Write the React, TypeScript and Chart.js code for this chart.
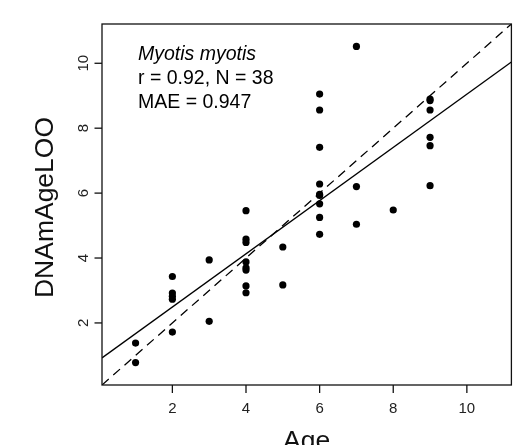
import React, { useEffect, useRef } from "react";
import { Chart, registerables } from "chart.js";

Chart.register(...registerables);

// ---- data ----
const ages = [
  1, 1,
  2, 2, 2, 2, 2,
  3, 3,
  4, 4, 4, 4, 4, 4, 4, 4,
  5, 5,
  6, 6, 6, 6, 6, 6, 6, 6, 6,
  7, 7, 7,
  8,
  9, 9, 9, 9, 9, 9,
];
const predicted = [
  1.38, 0.78,
  3.43, 2.92, 2.82, 2.73, 1.72,
  3.94, 2.05,
  5.46, 4.58, 4.48, 3.88, 3.7, 3.63, 3.14, 2.93,
  4.34, 3.17,
  9.05, 8.56, 7.41, 6.28, 5.96, 5.93, 5.67, 5.25, 4.73,
  10.52, 6.2, 5.04,
  5.48,
  8.9, 8.85, 8.56, 7.72, 7.46, 6.23,
];
const xTicks = [2, 4, 6, 8, 10];
const yTicks = [2, 4, 6, 8, 10];
const axisMin = 0.088;
const axisMax = 11.21;
const fitIntercept = 0.85;
const fitSlope = 0.82;
const speciesName = "Myotis myotis";
const statLines = ["r = 0.92, N = 38", "MAE = 0.947"];
const xTitle = "Age";
const yTitle = "DNAmAgeLOO";

const FONT = '"Liberation Sans", Arial, Helvetica, sans-serif';

const rPlotPlugin = {
  id: "rPlot",
  afterDraw(chart: any) {
    const { ctx, chartArea: a, scales } = chart;
    const xs = scales.x;
    const ys = scales.y;
    ctx.save();
    // box
    ctx.strokeStyle = "#111";
    ctx.lineWidth = 1.3;
    ctx.strokeRect(a.left, a.top, a.right - a.left, a.bottom - a.top);

    // x ticks & labels
    ctx.font = `15px ${FONT}`;
    ctx.fillStyle = "#222";
    ctx.textAlign = "center";
    ctx.textBaseline = "alphabetic";
    xTicks.forEach((v) => {
      const px = xs.getPixelForValue(v);
      ctx.beginPath();
      ctx.moveTo(px, a.bottom);
      ctx.lineTo(px, a.bottom + 8);
      ctx.stroke();
      ctx.fillText(String(v), px, a.bottom + 27.5);
    });

    // y ticks & labels (rotated)
    yTicks.forEach((v) => {
      const py = ys.getPixelForValue(v);
      ctx.beginPath();
      ctx.moveTo(a.left, py);
      ctx.lineTo(a.left - 7.5, py);
      ctx.stroke();
      ctx.save();
      ctx.translate(a.left - 14.5, py);
      ctx.rotate(-Math.PI / 2);
      ctx.fillText(String(v), 0, 0);
      ctx.restore();
    });

    // axis titles
    ctx.fillStyle = "#111";
    ctx.font = `26.5px ${FONT}`;
    ctx.textAlign = "center";
    ctx.fillText(xTitle, (a.left + a.right) / 2, a.bottom + 64);
    ctx.save();
    ctx.translate(53.3, (a.top + a.bottom) / 2 + 3);
    ctx.rotate(-Math.PI / 2);
    ctx.fillText(yTitle, 0, 0);
    ctx.restore();

    // annotation
    ctx.textAlign = "left";
    ctx.fillStyle = "#000";
    ctx.font = `italic 19.5px ${FONT}`;
    ctx.fillText(speciesName, a.left + 36, a.top + 36);
    ctx.font = `19.5px ${FONT}`;
    statLines.forEach((t, i) => {
      ctx.fillText(t, a.left + 36, a.top + 60 + i * 24);
    });
    ctx.restore();
  },
};

export default function App() {
  const ref = useRef<HTMLCanvasElement | null>(null);

  useEffect(() => {
    document.body.style.margin = "0";
    const canvas = ref.current;
    if (!canvas) return;
    const points = ages.map((x, i) => ({ x, y: predicted[i] }));
    const fitLine = [axisMin, axisMax].map((x) => ({ x, y: fitIntercept + fitSlope * x }));
    const identity = [axisMin, axisMax].map((x) => ({ x, y: x }));

    const chart = new Chart(canvas, {
      type: "scatter",
      data: {
        datasets: [
          {
            label: "identity",
            data: identity,
            showLine: true,
            borderColor: "#000",
            borderWidth: 1.3,
            borderDash: [9, 6],
            pointRadius: 0,
            fill: false,
          },
          {
            label: "fit",
            data: fitLine,
            showLine: true,
            borderColor: "#000",
            borderWidth: 1.3,
            pointRadius: 0,
            fill: false,
          },
          {
            label: "samples",
            data: points,
            backgroundColor: "#000",
            borderColor: "#000",
            borderWidth: 0,
            pointRadius: 3.6,
            pointHoverRadius: 3.6,
          },
        ],
      },
      options: {
        animation: false,
        responsive: false,
        devicePixelRatio: 1,
        events: [],
        layout: { padding: { left: 102, top: 24, right: 2, bottom: 60 } },
        plugins: {
          legend: { display: false },
          tooltip: { enabled: false },
          title: { display: false },
        },
        scales: {
          x: { type: "linear", min: axisMin, max: axisMax, display: false },
          y: { type: "linear", min: axisMin, max: axisMax, display: false },
        },
      },
      plugins: [rPlotPlugin],
    });
    return () => chart.destroy();
  }, []);

  return (
    <div style={{ position: "absolute", left: 0, top: 0, width: 515, height: 445, background: "#fff" }}>
      <canvas ref={ref} width={515} height={445} />
    </div>
  );
}
